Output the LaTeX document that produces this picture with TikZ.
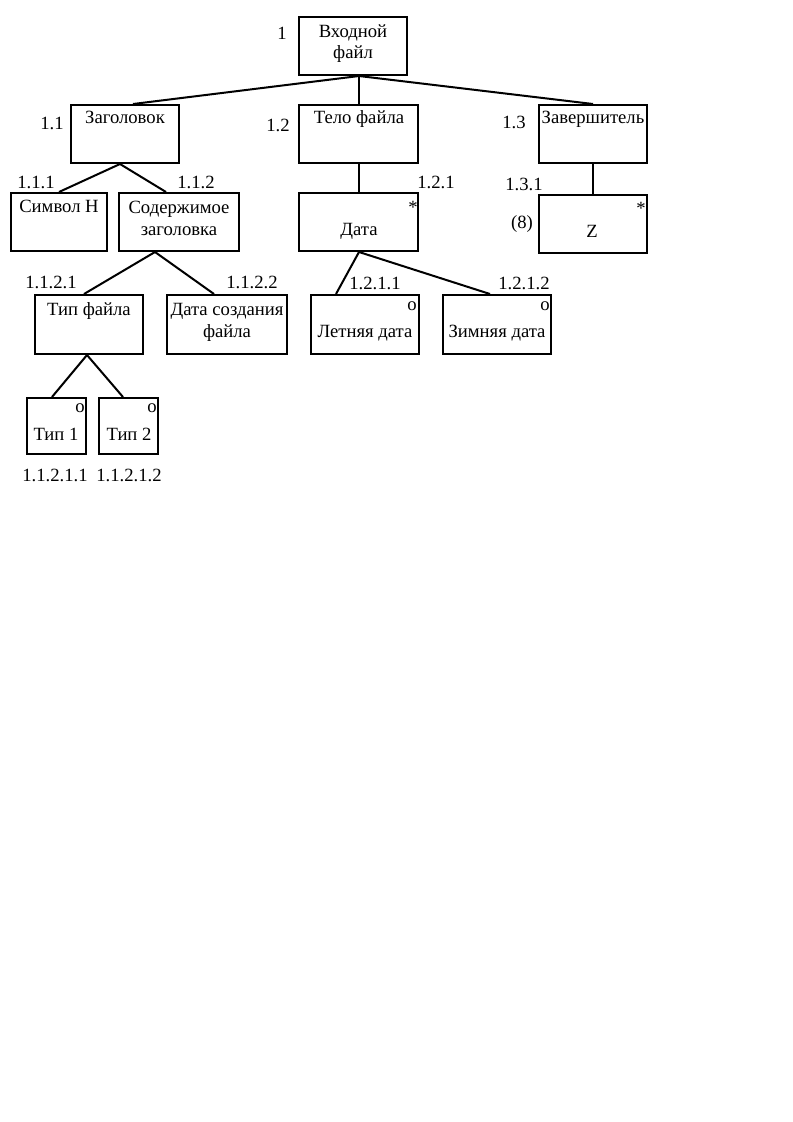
\documentclass[tikz,border=0pt]{standalone}
\usepackage{fontspec}
\setmainfont{Liberation Serif}
\usetikzlibrary{fit,calc}
\begin{document}
\begin{tikzpicture}[x=0.75pt,y=-0.75pt,
  box/.style={draw,line width=1.5pt,inner sep=0pt,fit={#1}},
  txt/.style={anchor=base,inner sep=0pt,font=\fontsize{14pt}{16pt}\selectfont},
  edge/.style={line width=1.5pt}]
\useasboundingbox (0,0) rectangle (793,1122);
\fill[white] (0,0) rectangle (793,1122);
% boxes
\node[box={(299,17)(407,75)}] (r) {};
\node[box={(71,105)(179,163)}] (b11) {};
\node[box={(299,105)(418,163)}] (b12) {};
\node[box={(539,105)(647,163)}] (b13) {};
\node[box={(11,193)(107,251)}] (b111) {};
\node[box={(119,193)(239,251)}] (b112) {};
\node[box={(299,193)(418,251)}] (b121) {};
\node[box={(539,195)(647,253)}] (b131) {};
\node[box={(35,295)(143,354)}] (b1121) {};
\node[box={(167,295)(287,354)}] (b1122) {};
\node[box={(311,295)(419,354)}] (b1211) {};
\node[box={(443,295)(551,354)}] (b1212) {};
\node[box={(27,398)(86,454)}] (b11211) {};
\node[box={(99,398)(158,454)}] (b11212) {};
% texts
\node[txt] (t1a) at (353,37) {Входной};
\node[txt] (t1b) at (353,58) {файл};
\node[txt] (l1) at (282,39) {1};
\node[txt] (t11) at (125,123) {Заголовок};
\node[txt] (l11) at (52,129) {1.1};
\node[txt] (t12) at (359,123) {Тело файла};
\node[txt] (l12) at (278,131) {1.2};
\node[txt] (t13) at (593,123) {Завершитель};
\node[txt] (l13) at (514,128) {1.3};
\node[txt] (t111) at (59,212) {Символ Н};
\node[txt] (l111) at (36,188) {1.1.1};
\node[txt] (t112a) at (179,213) {Содержимое};
\node[txt] (t112b) at (179,235) {заголовка};
\node[txt] (l112) at (196,188) {1.1.2};
\node[txt] (t121) at (359,235) {Дата};
\node[txt] (s121) at (413,213) {*};
\node[txt] (l121) at (436,188) {1.2.1};
\node[txt] (t131) at (592,237) {Z};
\node[txt] (s131) at (641,214) {*};
\node[txt] (n131) at (522,228) {(8)};
\node[txt] (l131) at (524,190) {1.3.1};
\node[txt] (t1121) at (89,315) {Тип файла};
\node[txt] (l1121) at (51,288) {1.1.2.1};
\node[txt] (t1122a) at (227,315) {Дата создания};
\node[txt] (t1122b) at (227,337) {файла};
\node[txt] (l1122) at (252,288) {1.1.2.2};
\node[txt] (t1211) at (365,337) {Летняя дата};
\node[txt] (o1211) at (412,310) {o};
\node[txt] (l1211) at (375,289) {1.2.1.1};
\node[txt] (t1212) at (497,337) {Зимняя дата};
\node[txt] (o1212) at (545,310) {o};
\node[txt] (l1212) at (524,289) {1.2.1.2};
\node[txt] (t11211) at (56,440) {Тип 1};
\node[txt] (o11211) at (80,412) {o};
\node[txt] (l11211) at (55,481) {1.1.2.1.1};
\node[txt] (t11212) at (129,440) {Тип 2};
\node[txt] (o11212) at (152,412) {o};
\node[txt] (l11212) at (129,481) {1.1.2.1.2};
% connectors
\coordinate (rj) at ($(r.south)+(6,0)$);
\draw[edge] (rj) -- ($(b11.north)+(8,0)$);
\draw[edge] (rj) -- (rj |- b12.north);
\draw[edge] (rj) -- (b13.north);
\coordinate (j11) at ($(b11.south)+(-5,0)$);
\draw[edge] (j11) -- (b111.north);
\draw[edge] (j11) -- ($(b112.north)+(-13,0)$);
\draw[edge] (b12.south -| rj) -- (b121.north -| rj);
\draw[edge] (b13.south) -- (b131.north);
\coordinate (j112) at ($(b112.south)+(-24,0)$);
\draw[edge] (j112) -- ($(b1121.north)+(-5,0)$);
\draw[edge] (j112) -- ($(b1122.north)+(-13,0)$);
\coordinate (j121) at (b121.south -| rj);
\draw[edge] (j121) -- ($(b1211.north)+(-29,0)$);
\draw[edge] (j121) -- ($(b1212.north)+(-7,0)$);
\coordinate (j1121) at ($(b1121.south)+(-2,0)$);
\draw[edge] (j1121) -- ($(b11211.north)+(-4.5,0)$);
\draw[edge] (j1121) -- ($(b11212.north)+(-5.5,0)$);
\end{tikzpicture}
\end{document}
